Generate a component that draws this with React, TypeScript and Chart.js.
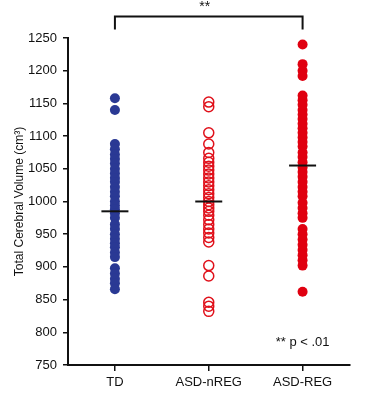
import React, { useEffect, useRef } from "react";
import { Chart, registerables } from "chart.js";
Chart.register(...registerables);

const categories = ["TD", "ASD-nREG", "ASD-REG"];
const tdValues = [1158, 1140, 1088, 1080, 1072, 1065, 1058, 1050, 1043, 1036, 1030, 1022, 1015, 1008, 1000, 994, 988, 982, 975, 965, 958, 950, 943, 936, 930, 922, 915, 898, 890, 882, 875, 866];
const nregValues = [1152, 1145, 1105, 1088, 1075, 1066, 1060, 1054, 1048, 1042, 1036, 1030, 1024, 1018, 1012, 1006, 1000, 995, 990, 985, 979, 972, 965, 958, 952, 945, 938, 902, 886, 846, 840, 832];
const regValues = [1240, 1210, 1200, 1192, 1162, 1155, 1148, 1140, 1133, 1126, 1119, 1112, 1105, 1098, 1091, 1084, 1075, 1068, 1060, 1052, 1045, 1038, 1030, 1022, 1015, 1008, 998, 990, 982, 975, 958, 950, 942, 934, 926, 918, 910, 902, 862];
const meanValues = [985, 1000, 1055];
const yMin = 750;
const yMax = 1250;
const yStep = 50;
const sigLabel = "**";
const pLabel = "** p < .01";
const yTitle = "Total Cerebral Volume (cm\u00B3)";
const bracketTop = 1283;
const bracketBottom = 1263;
const pLabelValue = 785;

const FONT = '"Liberation Sans", Arial, sans-serif';

const annotationPlugin = {
  id: "annot",
  afterDraw(chart: any) {
    const { ctx, scales } = chart;
    const x = scales.x;
    const y = scales.y;
    const xa = x.getPixelForValue(0);
    const xb = x.getPixelForValue(2);
    const yt = y.getPixelForValue(bracketTop);
    const yb = y.getPixelForValue(bracketBottom);
    ctx.save();
    ctx.strokeStyle = "#111";
    ctx.lineWidth = 2;
    ctx.beginPath();
    ctx.moveTo(xa, yb);
    ctx.lineTo(xa, yt);
    ctx.lineTo(xb, yt);
    ctx.lineTo(xb, yb);
    ctx.stroke();
    ctx.fillStyle = "#111";
    ctx.font = "14px " + FONT;
    ctx.textAlign = "center";
    ctx.textBaseline = "middle";
    ctx.fillText(sigLabel, (xa + xb) / 2 - 4, yt - 9);
    ctx.font = "13px " + FONT;
    ctx.fillText(pLabel, x.getPixelForValue(2), y.getPixelForValue(pLabelValue));
    ctx.restore();
  },
};

export default function App() {
  const ref = useRef<HTMLCanvasElement>(null);
  useEffect(() => {
    const mk = (vals: number[], idx: number) => vals.map((v) => ({ x: categories[idx], y: v }));
    const chart = new Chart(ref.current as HTMLCanvasElement, {
      type: "scatter",
      data: {
        labels: categories,
        datasets: [
          {
            data: meanValues.map((v, i) => ({ x: categories[i], y: v })),
            pointStyle: "line",
            pointRadius: 13.5,
            borderColor: "#111",
            backgroundColor: "#111",
            borderWidth: 2,
            order: 0,
          },
          {
            data: mk(tdValues, 0),
            pointRadius: 5,
            backgroundColor: "#2a3994",
            borderColor: "#2a3994",
            borderWidth: 0,
            order: 1,
          },
          {
            data: mk(nregValues, 1),
            pointRadius: 5,
            backgroundColor: "rgba(0,0,0,0)",
            borderColor: "#e0101a",
            borderWidth: 1.5,
            order: 1,
          },
          {
            data: mk(regValues, 2),
            pointRadius: 5,
            backgroundColor: "#e00010",
            borderColor: "#e00010",
            borderWidth: 0,
            order: 1,
          },
        ] as any,
      },
      options: {
        animation: false,
        responsive: false,
        events: [],
        clip: false as any,
        layout: { padding: { top: 38, right: 13, left: 0, bottom: 0 } },
        plugins: { legend: { display: false }, tooltip: { enabled: false } },
        scales: {
          x: {
            type: "category",
            labels: categories,
            offset: true,
            grid: {
              offset: false,
              drawOnChartArea: false,
              drawTicks: true,
              tickLength: 6,
              color: "#111",
              lineWidth: 1.5,
            },
            border: { display: true, color: "#111", width: 2 },
            ticks: { color: "#111", font: { family: FONT, size: 13 }, padding: 4 },
            afterFit: (s: any) => {
              s.height = 35;
            },
          },
          y: {
            min: yMin,
            max: yMax,
            ticks: {
              stepSize: yStep,
              color: "#111",
              font: { family: FONT, size: 13 },
              padding: 6,
              callback: (v: any) => String(v),
            },
            grid: {
              drawOnChartArea: false,
              drawTicks: true,
              tickLength: 5,
              color: "#111",
              lineWidth: 1.5,
            },
            border: { display: true, color: "#111", width: 2 },
            title: {
              display: true,
              text: yTitle,
              color: "#111",
              font: { family: FONT, size: 12 },
              padding: { top: 12, bottom: 0 },
            },
            afterFit: (s: any) => {
              s.width = 68;
            },
          },
        } as any,
      },
      plugins: [annotationPlugin],
    });
    return () => chart.destroy();
  }, []);
  return (
    <div style={{ position: "absolute", left: 0, top: 0, width: 365, height: 400, background: "#fff" }}>
      <canvas ref={ref} width={365} height={400} />
    </div>
  );
}
